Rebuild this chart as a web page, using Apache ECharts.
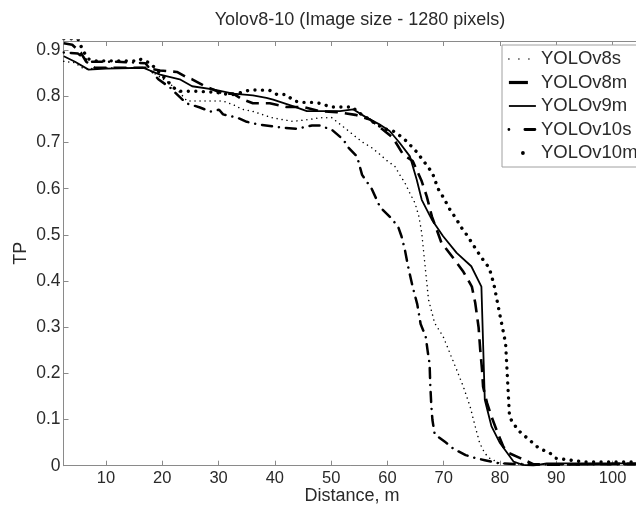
<!DOCTYPE html>
<html>
<head>
<meta charset="utf-8">
<script src="https://cdn.jsdelivr.net/npm/echarts@6/dist/echarts.min.js"></script>
<style>
html,body{margin:0;padding:0;background:#fff;}
#c{width:636px;height:506px;}
</style>
</head>
<body>
<div id="c"></div>
<script>
const titleText = 'Yolov8-10 (Image size - 1280 pixels)';
const xName = 'Distance, m';
const yName = 'TP';
const seriesNames = ['YOLOv8s', 'YOLOv8m', 'YOLOv9m', 'YOLOv10s', 'YOLOv10m'];
const xTicks = [10, 20, 30, 40, 50, 60, 70, 80, 90, 100];

const v8sX = [2.5,4.5,6,7.2,10,14,17,19.2,21.1,23,24.4,27,30.8,32.6,34.2,36,37.7,39.5,41.2,43.2,46.2,48,50.1,52.8,54.2,55.7,57.2,58.7,60,61.3,62.2,63.1,64,64.9,65.6,66.1,66.7,67.3,68.4,69.9,71.1,72.3,73.5,74.7,75.6,76.4,77.3,78.2,80,85,90,95,100,106];
const v8sY = [0.876,0.873,0.86,0.86,0.862,0.862,0.862,0.845,0.83,0.81,0.79,0.79,0.79,0.782,0.772,0.768,0.761,0.754,0.75,0.746,0.75,0.754,0.754,0.728,0.714,0.70,0.689,0.674,0.66,0.649,0.63,0.613,0.59,0.569,0.54,0.504,0.432,0.36,0.309,0.28,0.244,0.208,0.171,0.128,0.085,0.049,0.027,0.016,0.005,0.003,0.003,0.003,0.003,0.003];

const v8mX = [2.5,4,5.5,6.5,8,12,17,19.6,22.6,24.5,25.3,27.6,29,30.8,32.6,34,36.1,39.1,42.1,45,48,51,54.3,56.9,59,61,62.8,64.5,66.1,67,67.9,68.8,69.6,71.7,73.5,75,75.6,76.2,76.5,76.8,77,77.7,78.5,79.4,80.6,81.5,83.5,86,88,95,100,106];
const v8mY = [0.915,0.912,0.895,0.875,0.862,0.862,0.862,0.856,0.853,0.84,0.837,0.822,0.815,0.806,0.806,0.795,0.785,0.785,0.777,0.777,0.768,0.766,0.76,0.75,0.73,0.71,0.674,0.66,0.616,0.583,0.54,0.51,0.483,0.45,0.42,0.388,0.353,0.30,0.25,0.21,0.171,0.136,0.106,0.077,0.041,0.028,0.017,0.003,0.002,0.003,0.004,0.004];

const v9mX = [2.5,4.5,6.9,10,16.6,19.6,23.1,25.3,29,32.6,36.1,38.5,39.7,43.2,45.7,48,51.6,53.9,56.3,58.5,60.4,62.2,64,65.2,66.1,67.9,69.9,72.3,74.9,76.7,77.3,78.5,80,82.4,84,85.9,88.3,95,100,106];
const v9mY = [0.887,0.875,0.858,0.86,0.862,0.847,0.837,0.822,0.815,0.806,0.802,0.797,0.793,0.779,0.768,0.768,0.768,0.772,0.754,0.74,0.725,0.699,0.670,0.62,0.576,0.533,0.497,0.461,0.432,0.388,0.143,0.085,0.049,0.009,0.002,0.0,0.005,0.005,0.005,0.005];

const v10sX = [2.5,5,7,12,17,19.3,21.4,22.3,24.3,26.7,28.5,30.1,30.8,33.3,35,37.2,39.7,41.5,43.9,46.6,48,50.2,52.2,53,54.6,55.5,57.2,58.7,60.6,61.9,62.5,63.1,63.7,64.5,65.3,65.9,66.8,67.2,67.5,67.6,67.8,68,68.4,70.4,71.8,73.9,75.8,77.3,79.9,85,95,106];
const v10sY = [0.895,0.893,0.875,0.875,0.872,0.837,0.819,0.808,0.785,0.776,0.767,0.771,0.761,0.754,0.745,0.739,0.735,0.732,0.73,0.737,0.737,0.727,0.706,0.69,0.67,0.63,0.60,0.56,0.537,0.518,0.497,0.468,0.43,0.387,0.35,0.307,0.28,0.244,0.22,0.18,0.13,0.099,0.068,0.05,0.036,0.023,0.016,0.012,0.005,0.003,0.003,0.003];

const v10mX = [2.5,5,5.9,6.9,8.1,12,15.5,16,16.9,17.8,18.1,20,22,23,26,29.7,30.4,32.7,35.6,37,39.1,40.4,42,43.4,45,46.8,48,50,51.6,53.9,54.5,56.3,58.1,59.9,61,62.2,63.4,65.1,66.3,68,69,70,71.1,72.1,73.2,74.1,76,77,78.1,78.9,79.9,81,81.7,83.2,85.2,86.9,88.9,90,95,100,106];
const v10mY = [0.925,0.925,0.899,0.881,0.877,0.877,0.877,0.881,0.876,0.873,0.871,0.845,0.819,0.811,0.811,0.809,0.806,0.804,0.814,0.814,0.813,0.804,0.804,0.79,0.787,0.787,0.785,0.777,0.777,0.777,0.768,0.754,0.739,0.728,0.725,0.715,0.703,0.681,0.662,0.634,0.60,0.58,0.555,0.537,0.515,0.50,0.464,0.446,0.428,0.394,0.332,0.265,0.105,0.077,0.056,0.038,0.027,0.016,0.008,0.008,0.008];

function zip(xs, ys) { return xs.map((x, i) => [x, ys[i]]); }

const FONT = 'Liberation Sans, Arial, sans-serif';
const axisGray = '#8a8a8a';
const textCol = '#2a2a2a';

const styles = [
  { width: 1.5, type: [0.01, 5], cap: 'round' },
  { width: 2.6, type: [13, 7], cap: 'butt' },
  { width: 1.8, type: 'solid', cap: 'butt' },
  { width: 2.5, type: [0.01, 7, 10, 7], cap: 'round' },
  { width: 3.4, type: [0.01, 7.5], cap: 'round' }
];
const legendStyles = [
  { color: '#000', width: 1.5, type: [0.01, 10], cap: 'round' },
  { color: '#000', width: 3.2, type: [19, 40], cap: 'butt' },
  { color: '#000', width: 1.8, type: 'solid', cap: 'butt' },
  { color: '#000', width: 2.8, type: [0.01, 16, 10, 40], cap: 'round' },
  { color: '#000', width: 3.8, type: [0.01, 40], dashOffset: 26, cap: 'round' }
];
const dataSets = [zip(v8sX, v8sY), zip(v8mX, v8mY), zip(v9mX, v9mY), zip(v10sX, v10sY), zip(v10mX, v10mY)];

const chart = echarts.init(document.getElementById('c'), null, { renderer: 'canvas' });
chart.setOption({
  animation: false,
  backgroundColor: '#fff',
  graphic: [{
    type: 'text', x: 360, y: 20,
    style: { text: titleText, font: '18px ' + FONT, fill: textCol, textAlign: 'center', textVerticalAlign: 'middle' }
  }, {
    type: 'text', x: 352, y: 496,
    style: { text: xName, font: '18px ' + FONT, fill: textCol, textAlign: 'center', textVerticalAlign: 'middle' }
  }],
  grid: { left: 63.5, top: 41, right: -12, bottom: 40.3, containLabel: false, outerBoundsMode: 'none' },
  legend: {
    orient: 'vertical', left: 502, top: 45,
    data: seriesNames.map((n, i) => ({ name: n, lineStyle: legendStyles[i] })),
    backgroundColor: '#fff', borderColor: '#a0a0a0', borderWidth: 1,
    padding: [4, 8, 4, 5], itemGap: 3.5, itemWidth: 27, itemHeight: 14,
    itemStyle: { opacity: 0 },
    textStyle: { fontFamily: FONT, fontSize: 18.5, color: textCol, lineHeight: 20 },
    selectedMode: false
  },
  xAxis: [{
    type: 'value', min: 2.45, max: 106.3, position: 'bottom',
    axisLine: { lineStyle: { color: axisGray, width: 1 } },
    axisTick: { inside: true, length: 5, customValues: xTicks, lineStyle: { color: axisGray } },
    axisLabel: { customValues: xTicks, margin: 4, fontFamily: FONT, fontSize: 16.5, color: textCol },
    splitLine: { show: false }
  }, {
    type: 'value', min: 2.45, max: 106.3, position: 'top',
    axisLine: { show: true, lineStyle: { color: axisGray, width: 1 } },
    axisTick: { show: true, inside: true, length: 5, customValues: xTicks, lineStyle: { color: axisGray } },
    axisLabel: { show: false },
    splitLine: { show: false }
  }],
  yAxis: [{
    type: 'value', min: 0, max: 0.92, interval: 0.1,
    name: yName, nameLocation: 'middle', nameGap: 33, nameRotate: 90, nameMoveOverlap: false,
    nameTextStyle: { fontFamily: FONT, fontSize: 18, color: textCol },
    axisLine: { show: true, lineStyle: { color: axisGray, width: 1 } },
    axisTick: { show: true, inside: true, length: 5, lineStyle: { color: axisGray } },
    axisLabel: {
      margin: 3, fontFamily: FONT, fontSize: 17.5, color: textCol,
      formatter: v => (Math.abs(v) < 1e-9 ? '0' : v.toFixed(1)),
      showMaxLabel: false
    },
    splitLine: { show: false }
  }],
  series: seriesNames.map((name, i) => ({
    name: name, type: 'line', data: dataSets[i],
    xAxisIndex: 0, yAxisIndex: 0,
    symbol: 'none', showSymbol: false, clip: true,
    lineStyle: Object.assign({ color: '#000' }, styles[i]),
    itemStyle: { color: '#000' },
    z: 2 + i
  }))
});
</script>
</body>
</html>
